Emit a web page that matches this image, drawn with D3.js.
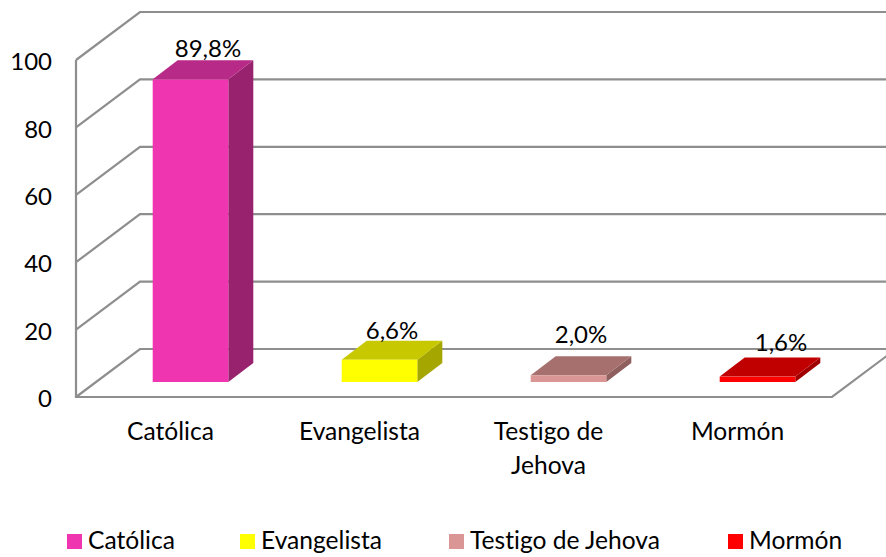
<!DOCTYPE html>
<html>
<head>
<meta charset="utf-8">
<script src="https://cdn.jsdelivr.net/npm/d3@7"></script>
<style>
    html, body { margin: 0; padding: 0; background: #fff; }
    svg { display: block; }
    text { font-family: Lato, "Open Sans", sans-serif; fill: #000; font-variant-ligatures: none; }
</style>
</head>
<body>
<svg id="chart" width="886" height="557"></svg>
<script>
const categories = ["Católica", "Evangelista", "Testigo de Jehova", "Mormón"];
const values = [89.8, 6.6, 2.0, 1.6];
const valueLabels = ["89,8%", "6,6%", "2,0%", "1,6%"];
const yTicks = [0, 20, 40, 60, 80, 100];

const frontColours = ["#f035b0", "#ffff00", "#d99694", "#ff0000"];
const topColours = ["#b82a88", "#c8c800", "#a6706f", "#c00000"];
const sideColours = ["#99226f", "#a6a600", "#8f5f5e", "#a00000"];

const width = 886;
const height = 557;
const gridColour = "#8e8e8e";

// depth of the chart box and of the bars, in pixels
const boxDx = 64;
const boxDy = 48;
const barDx = 25;
const barDy = 19;
const barShiftX = 20;
const barShiftY = 15;

const svg = d3.select("#chart");

const x = d3.scaleBand().domain(categories).range([76, 832]).paddingInner(0.6).paddingOuter(0.3);
const xCentre = d3.scaleBand().domain(categories).range([76, 832]);
const y = d3.scaleLinear().domain([0, 100]).range([397, 60]);

// walls and floor
const grid = svg.append("g")
    .attr("fill", "none")
    .attr("stroke", gridColour)
    .attr("stroke-width", 2.2);

grid.selectAll("path")
    .data(yTicks)
    .join("path")
    .attr("d", (d) => `M${x.range()[0]},${y(d)}L${x.range()[0] + boxDx},${y(d) - boxDy}L${width + 2},${y(d) - boxDy}`);

grid.append("path")
    .attr("d", `M76,${y(100)}L76,${y(0)}L832,${y(0)}L${832 + boxDx},${y(0) - boxDy}`);

// bars
const bars = svg.append("g")
    .selectAll("g")
    .data(categories)
    .join("g");

const barX = (d) => x(d) + barShiftX;
const barBase = y(0) - barShiftY;
const barTop = (i) => barBase - (y(0) - y(values[i]));

bars.append("path")
    .attr("fill", (d, i) => sideColours[i])
    .attr("d", (d, i) => {
        const r = barX(d) + x.bandwidth();
        return `M${r},${barBase}L${r},${barTop(i)}L${r + barDx},${barTop(i) - barDy}L${r + barDx},${barBase - barDy}Z`;
    });

bars.append("path")
    .attr("fill", (d, i) => topColours[i])
    .attr("d", (d, i) => {
        const l = barX(d);
        const r = l + x.bandwidth();
        const t = barTop(i);
        return `M${l},${t}L${l + barDx},${t - barDy}L${r + barDx},${t - barDy}L${r},${t}Z`;
    });

bars.append("rect")
    .attr("fill", (d, i) => frontColours[i])
    .attr("x", barX)
    .attr("y", (d, i) => barTop(i))
    .attr("width", x.bandwidth())
    .attr("height", (d, i) => barBase - barTop(i));

// value labels, the first and last were moved by hand in the original
const labelNudgeX = [5, 0, 0, 11];
const labelNudgeY = [-22, -21, -32, -26];

bars.append("text")
    .attr("text-anchor", "middle")
    .attr("font-size", 24)
    .attr("x", (d, i) => barX(d) + x.bandwidth() / 2 + barDx / 2 + labelNudgeX[i])
    .attr("y", (d, i) => barTop(i) + labelNudgeY[i])
    .text((d, i) => valueLabels[i]);

// y axis labels
const yAxis = svg.append("g")
    .attr("transform", "translate(52,2)")
    .call(d3.axisLeft(y).tickValues(yTicks).tickSize(0).tickPadding(0));
yAxis.select(".domain").remove();
yAxis.selectAll("text")
    .attr("font-size", 24)
    .style("font-family", "Lato, 'Open Sans', sans-serif");

// category labels, wrapped like the original
const catLines = [["Católica"], ["Evangelista"], ["Testigo de", "Jehova"], ["Mormón"]];

svg.append("g")
    .selectAll("text")
    .data(categories)
    .join("text")
    .attr("text-anchor", "middle")
    .attr("font-size", 24.6)
    .attr("y", 440)
    .each(function (d, i) {
        d3.select(this)
            .selectAll("tspan")
            .data(catLines[i])
            .join("tspan")
            .attr("x", xCentre(d) + xCentre.bandwidth() / 2)
            .attr("dy", (_, j) => (j ? 34 : 0))
            .text((t) => t);
    });

// legend
const legendX = [67, 240, 449, 728];
const legend = svg.append("g")
    .selectAll("g")
    .data(categories)
    .join("g")
    .attr("transform", (d, i) => `translate(${legendX[i]},534)`);

legend.append("rect")
    .attr("width", 15)
    .attr("height", 15)
    .attr("fill", (d, i) => frontColours[i]);

legend.append("text")
    .attr("x", 21)
    .attr("y", 15)
    .attr("font-size", 24.6)
    .text((d) => d);
</script>
</body>
</html>
